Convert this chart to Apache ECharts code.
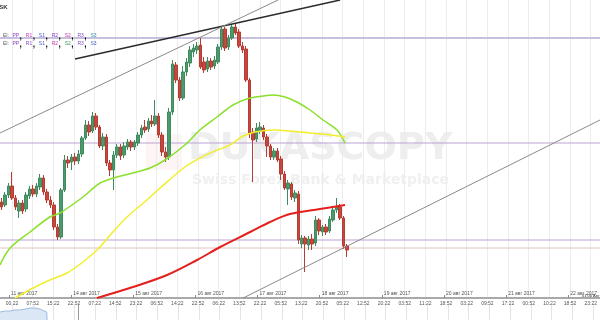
<!DOCTYPE html>
<html><head><meta charset="utf-8">
<script src="https://cdn.jsdelivr.net/npm/echarts@6/dist/echarts.min.js"></script>
<style>html,body{margin:0;padding:0;background:#fff}#c{width:600px;height:320px}</style>
</head><body><div id="c"></div>
<script>
// ---- data (USD/JPY style hourly candles) ----
const opens = [
109.18,109.15,109.25,109.34,109.22,109.09,109.17,109.11,109.24,109.31,
109.26,109.33,109.42,109.28,109.20,109.15,108.93,108.83,109.30,109.60,
109.58,109.63,109.59,109.66,109.82,109.95,109.89,110.04,109.93,109.74,
109.83,109.57,109.50,109.65,109.73,109.65,109.73,109.78,109.73,109.77,
109.85,109.93,109.91,109.99,109.96,110.04,109.85,109.68,109.63,110.08,
110.55,110.40,110.22,110.48,110.57,110.68,110.70,110.75,110.58,110.51,
110.59,110.54,110.58,110.73,110.91,110.73,110.82,110.93,110.88,110.74,
110.71,110.40,109.88,109.81,109.89,109.92,109.83,109.74,109.63,109.69,
109.61,109.46,109.31,109.36,109.22,109.26,108.76,108.82,108.75,108.81,
108.77,109.00,108.88,108.93,108.89,109.00,109.10,109.13,109.02,108.74];
const closes = [
109.13,109.25,109.34,109.22,109.13,109.17,109.09,109.25,109.31,109.26,
109.34,109.42,109.28,109.20,109.15,108.93,108.83,109.30,109.60,109.57,
109.63,109.59,109.66,109.82,109.95,109.88,110.04,109.93,109.74,109.83,
109.57,109.50,109.65,109.73,109.64,109.74,109.78,109.73,109.78,109.85,
109.92,109.90,109.99,109.96,110.04,109.85,109.68,109.63,110.08,110.56,
110.40,110.22,110.48,110.58,110.70,110.72,110.74,110.53,110.50,110.59,
110.53,110.60,110.73,110.91,110.72,110.82,110.93,110.87,110.74,110.70,
110.40,109.87,109.80,109.92,109.93,109.83,109.74,109.63,109.69,109.60,
109.46,109.32,109.37,109.23,109.27,108.80,108.82,108.76,108.81,108.76,
109.00,108.89,108.93,108.88,109.01,109.10,109.13,109.02,108.74,108.70];
const lows = [
109.10,109.13,109.22,109.20,109.10,109.02,109.06,109.08,109.21,109.23,
109.23,109.30,109.25,109.17,109.12,108.90,108.80,108.81,109.28,109.52,
109.50,109.55,109.56,109.63,109.80,109.84,109.87,109.90,109.72,109.70,
109.54,109.44,109.30,109.62,109.60,109.62,109.70,109.69,109.70,109.74,
109.82,109.87,109.88,109.93,109.94,109.82,109.64,109.58,109.60,110.05,
110.37,110.19,110.20,110.44,110.53,110.63,110.66,110.51,110.47,110.48,
110.50,110.51,110.56,110.70,110.69,110.70,110.80,110.85,110.72,110.67,
110.38,109.82,109.38,109.78,109.86,109.80,109.63,109.60,109.60,109.58,
109.40,109.30,109.15,109.20,109.18,108.76,108.72,108.48,108.70,108.70,
108.74,108.85,108.84,108.85,108.87,108.98,109.07,109.00,108.71,108.63];
const highs = [
109.22,109.28,109.37,109.48,109.25,109.20,109.20,109.28,109.34,109.35,
109.37,109.46,109.45,109.31,109.24,109.18,108.96,109.32,109.65,109.64,
109.66,109.67,109.70,109.84,110.00,109.99,110.08,110.07,109.95,109.87,
109.86,109.60,109.69,109.76,109.76,109.78,109.81,109.80,109.80,109.88,
109.95,110.00,110.02,110.05,110.20,110.07,109.88,109.73,110.12,110.60,
110.58,110.43,110.54,110.62,110.74,110.76,110.78,110.82,110.63,110.63,
110.62,110.64,110.76,110.93,110.93,110.85,110.96,110.97,110.91,110.78,
110.74,110.42,109.92,109.97,109.98,109.95,109.86,109.76,109.72,109.72,
109.64,109.49,109.40,109.38,109.30,109.29,108.85,108.84,108.84,108.86,
109.04,109.02,108.95,108.96,109.04,109.13,109.22,109.16,109.04,108.76];

// moving averages, sampled as [slot, price]
const greenMA = [[0,108.55],[2.9,108.72],[8.6,108.88],[14.3,109.03],[17.2,109.07],[23.8,109.23],[28.7,109.37],[33.5,109.43],[38.1,109.47],[43.0,109.52],[47.3,109.60],[53.0,109.75],[57.3,109.90],[62.2,110.03],[66.8,110.15],[71.7,110.22],[75.4,110.24],[78.3,110.25],[81.7,110.23],[85.1,110.18],[88.9,110.10],[92.6,110.00],[96.6,109.90],[98.9,109.77]];
const yellowMA = [[4.3,108.22],[9.5,108.32],[14.3,108.40],[19.2,108.47],[23.8,108.58],[27.8,108.70],[32.1,108.87],[36.4,109.03],[42.1,109.20],[45.9,109.32],[53.0,109.53],[57.3,109.62],[61.6,109.69],[65.9,109.75],[69.7,109.84],[73.1,109.88],[78.3,109.90],[83.1,109.89],[88.9,109.87],[94.6,109.85],[98.9,109.83]];
const redMA = [[27.8,108.22],[38.1,108.33],[47.9,108.45],[56.5,108.60],[63.1,108.73],[71.7,108.88],[77.4,108.98],[83.1,109.06],[91.7,109.11],[98.9,109.15]];

// trend lines and pivot levels
const blackTrend = [[21.5,110.61],[97.5,111.20]];
const greyTrendUpper = [[0,109.87],[79.7,111.20]];
const greyTrendLower = [[69.7,108.22],[172,110.00]];
const pivotLevels = [110.82, 109.77, 108.80, 108.72];
const pivotColors = ['#c7c0dd', '#bba2d3', '#bba2d3', '#dcc6bd'];
const pivotWidths = [2, 1, 1, 1];

// axis labels
const timeLabels = ["00:22","07:52","15:22","22:52","07:22","14:52","23:22","06:52","14:22","22:52","06:22","13:52","22:22","05:52","13:22","20:52","05:22","12:52","20:22","03:52","11:22","18:52","03:22","09:52","17:22","00:52","10:22","18:52","23:22"];
const dateLabels = ["11 авг 2017","14 авг 2017","15 авг 2017","16 авг 2017","17 авг 2017","18 авг 2017","19 авг 2017","20 авг 2017","21 авг 2017","22 авг 2017"];
const navData = [[0,0.53],[1.4,0.6],[2.9,0.6],[4.3,0.67],[5.7,0.67],[7.2,0.73],[8.6,0.8],[10.0,0.8],[11.5,0.73],[12.6,0.6],[13.4,0.53],[13.5,0]];

const SLOTS = 172;
const slotCats = Array.from({length: SLOTS}, (_, i) => 'h' + i);
const candles = opens.map((o, i) => [o, closes[i], lows[i], highs[i]]);

const FONT = 'Liberation Sans';
const chart = echarts.init(document.getElementById('c'));

const series = [];
series.push({
  type: 'candlestick', xAxisIndex: 0, yAxisIndex: 0, data: candles, barWidth: 3, z: 3,
  itemStyle: { color: '#4c9a6c', color0: '#c8463b', borderColor: '#3f8a5e', borderColor0: '#b53d33', borderWidth: 1 }
});
pivotLevels.forEach((p, k) => series.push({
  type: 'line', xAxisIndex: 1, yAxisIndex: 0, data: [[0, p], [SLOTS, p]], symbol: 'none', silent: true, z: 2,
  lineStyle: { color: pivotColors[k], width: pivotWidths[k] }
}));
const addLine = (d, color, width, smooth) => series.push({
  type: 'line', xAxisIndex: 1, yAxisIndex: 0, data: d, symbol: 'none', silent: true, smooth: smooth, z: 4,
  lineStyle: { color: color, width: width }
});
addLine(greenMA, '#8ae02a', 1.5, 0.35);
addLine(yellowMA, '#f2ee2a', 1.5, 0.35);
addLine(redMA, '#e3201c', 2, 0.35);
addLine(blackTrend, '#2b2b2b', 1.5, false);
addLine(greyTrendUpper, '#8a8a8a', 1, false);
addLine(greyTrendLower, '#8a8a8a', 1, false);
series.push({
  type: 'line', xAxisIndex: 4, yAxisIndex: 3, data: navData, symbol: 'none', silent: true,
  lineStyle: { color: '#9dbbe0', width: 1 }, areaStyle: { color: '#dbe7f5', opacity: 1 },
  markLine: { symbol: 'none', silent: true, label: { show: false }, data: [{ xAxis: 22.4 }],
    lineStyle: { color: '#9a9a9a', type: 'solid', width: 1 } }
});

const hiddenY = (g) => ({ type: 'value', gridIndex: g, min: 0, max: 1, show: false });

chart.setOption({
  animation: false,
  backgroundColor: '#ffffff',
  grid: [
    { left: 0, right: 0, top: 0, bottom: 22 },
    { left: 12, right: 7, top: 0, bottom: 22 },
    { left: 9, right: 7, top: 0, bottom: 22 },
    { left: 0, right: 0, top: 305, bottom: 0 },
    { left: 12, right: 7, top: 305, bottom: 0 }
  ],
  xAxis: [
    { type: 'category', gridIndex: 0, data: slotCats, boundaryGap: true,
      axisLine: { show: true, lineStyle: { color: '#a9a9a9', width: 2 } },
      axisTick: { show: false }, axisLabel: { show: false }, splitLine: { show: false } },
    { type: 'value', gridIndex: 0, min: 0, max: SLOTS, show: false },
    { type: 'category', gridIndex: 1, data: timeLabels, boundaryGap: false,
      axisLine: { show: false }, axisTick: { show: false },
      axisLabel: { interval: 0, fontSize: 5, color: '#555', margin: 3, fontFamily: FONT },
      splitLine: { show: true, interval: 0, lineStyle: { color: '#ececec', width: 1 } } },
    { type: 'category', gridIndex: 2, data: dateLabels, boundaryGap: false,
      axisLine: { show: false },
      axisTick: { show: true, inside: true, length: 3, interval: 0, lineStyle: { color: '#8a8a8a' } },
      axisLabel: { interval: 0, inside: true, align: 'left', fontSize: 5, color: '#555', margin: 2, padding: [0, 0, 0, 2], fontFamily: FONT },
      splitLine: { show: false } },
    { type: 'value', gridIndex: 3, min: 0, max: SLOTS, show: false },
    { type: 'category', gridIndex: 4, data: timeLabels, boundaryGap: false,
      axisLine: { show: false }, axisTick: { show: false }, axisLabel: { show: false },
      splitLine: { show: true, interval: 0, lineStyle: { color: '#e3e3e3', width: 1 } } }
  ],
  yAxis: [
    { type: 'value', gridIndex: 0, min: 108.22, max: 111.20, show: false, scale: true },
    hiddenY(1), hiddenY(2), hiddenY(3), hiddenY(4)
  ],
  graphic: [
    { type: 'rect', left: 146, top: 134, z: 0, shape: { width: 36, height: 36, r: 3 }, style: { fill: 'rgba(225,90,90,0.06)' } },
    { type: 'text', left: 188, top: 130, z: 0, style: { text: 'DUKASCOPY', font: 'bold 38px "DejaVu Sans"', fill: '#eeeeee' } },
    { type: 'text', left: 192, top: 173, z: 0, style: { text: 'Swiss Forex Bank & Marketplace', font: 'bold 14px "DejaVu Sans"', fill: '#f0f0f0' } },
    { type: 'text', x: -5, y: 4, z: 10, style: { text: 'ASK', font: 'bold 6px "Liberation Sans"', fill: '#333' } },
    { type: 'text', x: 3, y: 30, z: 10, style: {
      text: '{g|EI:} {p|PP}, {m|R1}, {b|S1}, {p|R2}, {m|S2}, {v|R3}, {t|S3}',
      rich: { g: { fontSize: 5, fill: '#555', fontFamily: FONT }, p: { fontSize: 5, fill: '#8a3cc0', fontFamily: FONT }, m: { fontSize: 5, fill: '#c43cb8', fontFamily: FONT },
              b: { fontSize: 5, fill: '#5561d0', fontFamily: FONT }, v: { fontSize: 5, fill: '#7a4fc4', fontFamily: FONT }, t: { fontSize: 5, fill: '#2f93a8', fontFamily: FONT } } } },
    { type: 'text', x: 3, y: 38, z: 10, style: {
      text: '{g|EI:} {p|PP}, {v|R1}, {b|S1}, {m|R2}, {n|S2}, {v|R3}, {b|S3}',
      rich: { g: { fontSize: 5, fill: '#555', fontFamily: FONT }, p: { fontSize: 5, fill: '#8a3cc0', fontFamily: FONT }, m: { fontSize: 5, fill: '#c43cb8', fontFamily: FONT },
              b: { fontSize: 5, fill: '#4a62c8', fontFamily: FONT }, v: { fontSize: 5, fill: '#7a4fc4', fontFamily: FONT }, n: { fontSize: 5, fill: '#3f9a5e', fontFamily: FONT } } } },
    { type: 'text', x: 582, y: 294, z: 10, style: { text: '01:00 Авг 22', font: '4px "Liberation Sans"', fill: '#333' } }
  ],
  series: series
});
</script></body></html>
